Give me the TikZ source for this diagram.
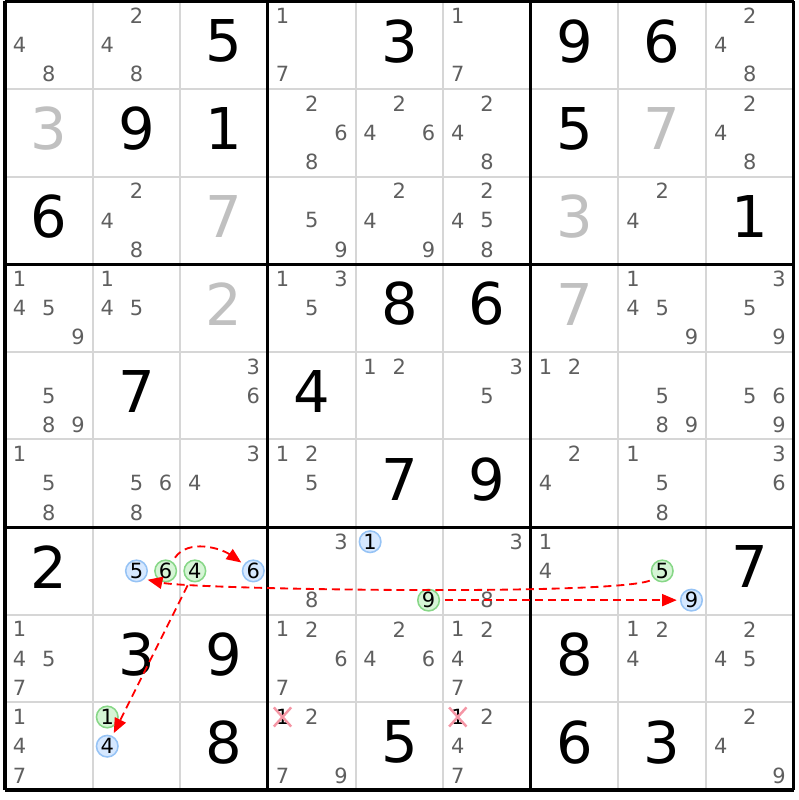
\documentclass[tikz,border=0pt]{standalone}
\usepackage{fontspec}
\setmainfont{DejaVu Sans}
\usetikzlibrary{arrows.meta,shapes.misc}
\definecolor{candgray}{RGB}{95,95,95}
\definecolor{solvedgray}{RGB}{192,192,192}
\definecolor{thingray}{RGB}{214,214,214}
\definecolor{offfill}{RGB}{214,232,255}
\definecolor{offline}{RGB}{150,195,245}
\definecolor{onfill}{RGB}{214,245,214}
\definecolor{online}{RGB}{135,215,135}
\definecolor{elimpink}{RGB}{245,150,165}
\begin{document}
\begin{tikzpicture}[
  given/.style={font=\fontsize{18.7}{20}\selectfont, yshift=1.3pt},
  solved/.style={given, text=solvedgray},
  cand/.style={font=\fontsize{6.8}{8}\selectfont, text=candgray, inner sep=0pt},
  hl/.style={circle, inner sep=0pt, minimum size=0.246cm, line width=0.5pt, font=\fontsize{6.8}{8}\selectfont},
  offcand/.style={hl, draw=offline, fill=offfill},
  oncand/.style={hl, draw=online, fill=onfill},
  elim/.style={cand, text=black, cross out, draw=elimpink, line width=0.8pt, minimum width=0.17cm, minimum height=0.19cm},
  link/.style={draw=red, dash pattern=on 2.6pt off 1.6pt, line width=0.6pt, -{Triangle[length=4.8pt,width=3.9pt]}, shorten <=1.5pt, shorten >=1pt}]
\useasboundingbox (-0.057,0.015) rectangle (9.060,-9.114);
\draw[thingray, line width=0.65pt] (0,0) grid (9,-9);
\draw[line width=1pt, step=3] (0,0) grid (9,-9);
\foreach \c/\r/\d in {3/1/5,5/1/3,7/1/9,8/1/6, 2/2/9,3/2/1,7/2/5, 1/3/6,9/3/1,
    5/4/8,6/4/6, 2/5/7,4/5/4, 5/6/7,6/6/9,
    1/7/2,9/7/7, 2/8/3,3/8/9,7/8/8, 3/9/8,5/9/5,7/9/6,8/9/3}
  \node[given] (v\r\c) at (\c-0.5,0.5-\r) {\d};
\foreach \c/\r/\d in {1/2/3,8/2/7,3/3/7,7/3/3,3/4/2,7/4/7}
  \node[solved] (v\r\c) at (\c-0.5,0.5-\r) {\d};
\foreach \c/\r/\l in {1/1/{4,8},2/1/{2,4,8},4/1/{1,7},6/1/{1,7},9/1/{2,4,8},
    4/2/{2,6,8},5/2/{2,4,6},6/2/{2,4,8},9/2/{2,4,8},
    2/3/{2,4,8},4/3/{5,9},5/3/{2,4,9},6/3/{2,4,5,8},8/3/{2,4},
    1/4/{1,4,5,9},2/4/{1,4,5},4/4/{1,3,5},8/4/{1,4,5,9},9/4/{3,5,9},
    1/5/{5,8,9},3/5/{3,6},5/5/{1,2},6/5/{3,5},7/5/{1,2},8/5/{5,8,9},9/5/{5,6,9},
    1/6/{1,5,8},2/6/{5,6,8},3/6/{3,4},4/6/{1,2,5},7/6/{2,4},8/6/{1,5,8},9/6/{3,6},
    4/7/{3,8},6/7/{3,8},7/7/{1,4},
    1/8/{1,4,5,7},4/8/{1,2,6,7},5/8/{2,4,6},6/8/{1,2,4,7},8/8/{1,2,4},9/8/{2,4,5},
    1/9/{1,4,7},4/9/{2,7,9},6/9/{2,4,7},9/9/{2,4,9}}
  \foreach \d in \l {
    \pgfmathtruncatemacro\cx{mod(\d-1,3)}
    \pgfmathtruncatemacro\cy{(\d-1)/3}
    \node[cand] (k\r\c\d) at ({\c-5/6+\cx/3},{5/6-\r-\cy/3}) {\d};
  }
\node[elim] (x94) at (3.1667,-8.1667) {1};
\node[elim] (x96) at (5.1667,-8.1667) {1};
\node[offcand] (b5) at (1.5,-6.5) {5};
\node[oncand] (g6) at (1.8333,-6.5) {6};
\node[oncand] (g4) at (2.1667,-6.5) {4};
\node[offcand] (b6) at (2.8333,-6.5) {6};
\node[offcand] (b1) at (4.1667,-6.1667) {1};
\node[oncand] (g9) at (4.8333,-6.8333) {9};
\node[oncand] (g5) at (7.5,-6.5) {5};
\node[offcand] (b9) at (7.8333,-6.8333) {9};
\node[oncand] (g1) at (1.1667,-8.1667) {1};
\node[offcand] (b4) at (1.1667,-8.5) {4};
\draw[link] (g6) to[out=55,in=145] (b6);
\draw[link] (g5.225) to[out=200,in=-12,looseness=0.25] (b5.-45);
\draw[link] (g9) -- (b9);
\draw[link] (g4) -- (b4);
\end{tikzpicture}
\end{document}
